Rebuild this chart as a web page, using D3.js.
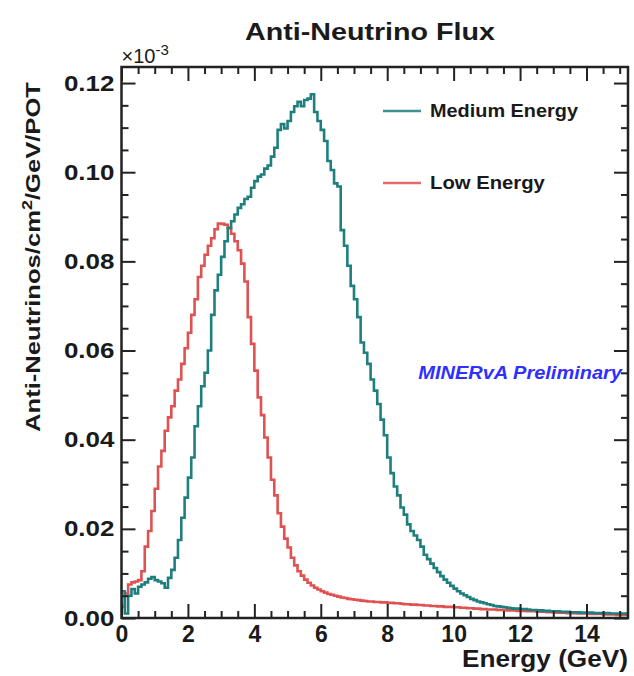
<!DOCTYPE html>
<html>
<head>
<meta charset="utf-8">
<script src="https://cdn.jsdelivr.net/npm/d3@7"></script>
<style>
  body { margin: 0; background: #fff; }
  text { font-family: 'Liberation Sans', Arial, Helvetica, sans-serif; font-weight: bold; fill: #1a1a1a; }
</style>
</head>
<body>
<svg id="chart" width="634" height="676"></svg>
<script>
const width = 634
const height = 676
const margin = { top: 67, right: 6, bottom: 58, left: 121.5 }

// bins of 0.1 GeV, the frame runs a little past 15 GeV
const binWidth = 0.1
const xMax = 15.25
const yMax = 0.1236

const mediumEnergy = [
  0.0060, 0.0010, 0.0050, 0.0065, 0.0055, 0.0070, 0.0075, 0.0080, 0.0088, 0.0092,
  0.0085, 0.0082, 0.0078, 0.0068, 0.0090, 0.0108, 0.0135, 0.0175, 0.0225, 0.0270,
  0.0315, 0.0360, 0.0430, 0.0475, 0.0520, 0.0550, 0.0600, 0.0680, 0.0735, 0.0770,
  0.0810, 0.0845, 0.0875, 0.0890, 0.0905, 0.0920, 0.0928, 0.0940, 0.0945, 0.0965,
  0.0980, 0.0990, 0.0995, 0.1008, 0.1015, 0.1035, 0.1055, 0.1095, 0.1108, 0.1098,
  0.1115, 0.1135, 0.1148, 0.1158, 0.1148, 0.1162, 0.1165, 0.1175, 0.1135, 0.1115,
  0.1095, 0.1070, 0.1025, 0.1005, 0.0975, 0.0968, 0.0870, 0.0835, 0.0790, 0.0745,
  0.0715, 0.0675, 0.0618, 0.0595, 0.0570, 0.0535, 0.0510, 0.0480, 0.0445, 0.0410,
  0.0360, 0.0325, 0.0295, 0.0275, 0.0248, 0.0232, 0.0210, 0.0195, 0.0185, 0.0175,
  0.0160, 0.0142, 0.0132, 0.0122, 0.0112, 0.0103, 0.0094, 0.0086, 0.0079, 0.0072,
  0.0066, 0.0060, 0.0055, 0.0051, 0.0047, 0.0043, 0.0040, 0.0037, 0.0035, 0.0033,
  0.0031, 0.0029, 0.0027, 0.0026, 0.0025, 0.0024, 0.0023, 0.0022, 0.0021, 0.0021,
  0.0020, 0.0020, 0.0019, 0.0018, 0.0018, 0.0017, 0.0017, 0.0016, 0.0016, 0.0015,
  0.0015, 0.0015, 0.0014, 0.0014, 0.0014, 0.0013, 0.0013, 0.0013, 0.0012, 0.0012,
  0.0012, 0.0012, 0.0011, 0.0011, 0.0011, 0.0011, 0.0011, 0.0010, 0.0010, 0.0010,
  0.0010, 0.0010,
]

const lowEnergy = [
  0.0025, 0.0055, 0.0075, 0.0080, 0.0082, 0.0085, 0.0105, 0.0160, 0.0195, 0.0240,
  0.0290, 0.0340, 0.0375, 0.0420, 0.0450, 0.0475, 0.0510, 0.0535, 0.0570, 0.0605,
  0.0640, 0.0680, 0.0715, 0.0765, 0.0790, 0.0815, 0.0835, 0.0852, 0.0872, 0.0885,
  0.0884, 0.0882, 0.0875, 0.0862, 0.0845, 0.0825, 0.0795, 0.0755, 0.0675, 0.0615,
  0.0555, 0.0495, 0.0455, 0.0405, 0.0360, 0.0310, 0.0275, 0.0235, 0.0205, 0.0178,
  0.0158, 0.0135, 0.0118, 0.0105, 0.0095, 0.0086, 0.0079, 0.0073, 0.0068, 0.0064,
  0.0060, 0.0057, 0.0054, 0.0052, 0.0050, 0.0048, 0.0046, 0.0045, 0.0043, 0.0042,
  0.0041, 0.0040, 0.0039, 0.0038, 0.0037, 0.0037, 0.0036, 0.0036, 0.0035, 0.0035,
  0.0034, 0.0034, 0.0033, 0.0033, 0.0032, 0.0031, 0.0031, 0.0030, 0.0030, 0.0029,
  0.0029, 0.0028, 0.0028, 0.0027, 0.0027, 0.0026, 0.0026, 0.0025, 0.0025, 0.0025,
  0.0024, 0.0024, 0.0023, 0.0023, 0.0022, 0.0022, 0.0021, 0.0021, 0.0020, 0.0020,
  0.0019, 0.0019, 0.0019, 0.0018, 0.0018, 0.0018, 0.0017, 0.0017, 0.0017, 0.0016,
  0.0016, 0.0016, 0.0015, 0.0015, 0.0015, 0.0014, 0.0014, 0.0014, 0.0013, 0.0013,
  0.0013, 0.0012, 0.0012, 0.0012, 0.0011, 0.0011, 0.0011, 0.0010, 0.0010, 0.0010,
  0.0010, 0.0009, 0.0009, 0.0009, 0.0009, 0.0008, 0.0008, 0.0008, 0.0008, 0.0007,
  0.0007, 0.0007,
]

const xMajorTicks = [0, 2, 4, 6, 8, 10, 12, 14]
const yMajorTicks = [0, 0.02, 0.04, 0.06, 0.08, 0.1, 0.12]

const series = [
  { name: 'Medium Energy', values: mediumEnergy, color: '#1f7f7f' },
  { name: 'Low Energy', values: lowEnergy, color: '#e05252' },
]

const svg = d3.select('#chart')

const xScale = d3.scaleLinear().domain([0, xMax]).range([margin.left, width - margin.right])
const yScale = d3.scaleLinear().domain([0, yMax]).range([height - margin.bottom, margin.top])

const x0 = margin.left
const x1 = width - margin.right
const y0 = height - margin.bottom
const y1 = margin.top

/* stretch a text along its reading direction to a target length */
function fit(sel, x, y, target, rot) {
  const w = sel.node().getComputedTextLength()
  sel.attr('transform', `translate(${x},${y})${rot ? ` rotate(${rot})` : ''} scale(${target / w},1)`)
}

/* histograms */
svg.append('clipPath').attr('id', 'plotclip')
  .append('rect').attr('x', x0).attr('y', y1).attr('width', x1 - x0).attr('height', y0 - y1)

const line = d3.line()
  .x((d) => xScale(d[0]))
  .y((d) => yScale(d[1]))
  .curve(d3.curveStepAfter)

series.slice().reverse().forEach((s) => {
  const pts = [[0, 0]]
  s.values.forEach((v, i) => pts.push([i * binWidth, v]))
  pts.push([xMax, s.values[s.values.length - 1]])
  svg.append('path')
    .datum(pts)
    .attr('clip-path', 'url(#plotclip)')
    .attr('fill', 'none')
    .attr('stroke', s.color)
    .attr('stroke-width', 2.6)
    .attr('d', line)
})

/* axes, ROOT style ticks inside the frame */
const xMinor = d3.range(0, 15.01, 0.5).filter((d) => d % 2 !== 0)
const yMinor = d3.range(0, yMax, 0.005).filter((d) => Math.abs(d / 0.02 - Math.round(d / 0.02)) > 0.01)

function styleAxis(g) {
  g.select('.domain').remove()
  g.selectAll('line').attr('stroke', '#222').attr('stroke-width', 2)
  g.selectAll('text').style('font-size', '22px').attr('fill', '#1a1a1a')
}

svg.append('g').attr('transform', `translate(0,${y0})`)
  .call(d3.axisBottom(xScale).tickValues(xMajorTicks).tickSize(-14).tickPadding(8).tickFormat(d3.format('d')))
  .call(styleAxis)
  .call((g) => g.selectAll('text').style('font-size', '23px'))
svg.append('g').attr('transform', `translate(0,${y0})`)
  .call(d3.axisBottom(xScale).tickValues(xMinor).tickSize(-7).tickFormat(''))
  .call(styleAxis)
svg.append('g').attr('transform', `translate(0,${y1})`)
  .call(d3.axisTop(xScale).tickValues(xMajorTicks).tickSize(-14).tickFormat(''))
  .call(styleAxis)
svg.append('g').attr('transform', `translate(0,${y1})`)
  .call(d3.axisTop(xScale).tickValues(xMinor).tickSize(-7).tickFormat(''))
  .call(styleAxis)

svg.append('g').attr('transform', `translate(${x0},0)`)
  .call(d3.axisLeft(yScale).tickValues(yMajorTicks).tickSize(-14).tickPadding(6).tickFormat(d3.format('.2f')))
  .call(styleAxis)
  .call((g) => g.selectAll('text').attr('transform', 'scale(1.18,1)'))
svg.append('g').attr('transform', `translate(${x0},0)`)
  .call(d3.axisLeft(yScale).tickValues(yMinor).tickSize(-7).tickFormat(''))
  .call(styleAxis)
svg.append('g').attr('transform', `translate(${x1},0)`)
  .call(d3.axisRight(yScale).tickValues(yMajorTicks).tickSize(-14).tickFormat(''))
  .call(styleAxis)
svg.append('g').attr('transform', `translate(${x1},0)`)
  .call(d3.axisRight(yScale).tickValues(yMinor).tickSize(-7).tickFormat(''))
  .call(styleAxis)

/* frame */
svg.append('rect')
  .attr('x', x0).attr('y', y1)
  .attr('width', x1 - x0).attr('height', y0 - y1)
  .attr('fill', 'none').attr('stroke', '#222').attr('stroke-width', 2.5)

/* titles */
const title = svg.append('text').attr('text-anchor', 'middle').style('font-size', '23px').text('Anti-Neutrino Flux')
fit(title, 370, 40, 250)

const expo = svg.append('text').attr('x', x0).attr('y', 63).style('font-size', '20px').style('font-weight', 'normal')
expo.append('tspan').text('\u00d710')
expo.append('tspan').attr('dy', -8).style('font-size', '15px').text('-3')

const yTitle = svg.append('text').attr('text-anchor', 'end').style('font-size', '20px')
yTitle.append('tspan').text('Anti-Neutrinos/cm')
yTitle.append('tspan').attr('dy', -8).style('font-size', '14px').text('2')
yTitle.append('tspan').attr('dy', 8).text('/GeV/POT')
fit(yTitle, 40, 82, 350, -90)

const xTitle = svg.append('text').attr('text-anchor', 'end').style('font-size', '23px').text('Energy (GeV)')
fit(xTitle, 628, 667, 166)

/* legend */
const legendRows = [
  { s: series[0], y: 111, len: 148 },
  { s: series[1], y: 183, len: 115 },
]
legendRows.forEach((r) => {
  svg.append('line')
    .attr('x1', 383).attr('x2', 421).attr('y1', r.y).attr('y2', r.y)
    .attr('stroke', r.s.color).attr('stroke-width', 2.6).attr('opacity', 0.85)
  const t = svg.append('text').style('font-size', '18px').text(r.s.name)
  fit(t, 430, r.y + 6, r.len)
})

const prelim = svg.append('text')
  .attr('text-anchor', 'end')
  .style('font-size', '18px')
  .style('font-style', 'italic')
  .style('fill', '#2f2fff')
  .text('MINERvA Preliminary')
fit(prelim, 622, 379, 204)
</script>
</body>
</html>
